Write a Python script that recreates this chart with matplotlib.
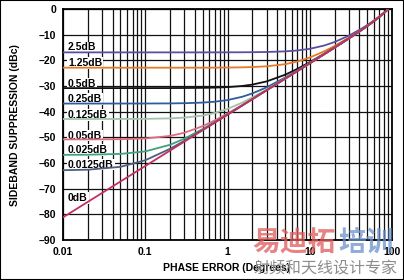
import matplotlib
matplotlib.use('Agg')
import matplotlib.pyplot as plt
from matplotlib.patches import Rectangle

plt.rcParams['font.family'] = ['Liberation Sans', 'DejaVu Sans']

# phase error (degrees) and sideband suppression (dBc)
phase_err = [0.01, 0.02, 0.05, 0.1, 0.2, 0.3, 0.5, 0.7, 1, 1.5, 2, 3, 5, 7, 10,
             15, 20, 30, 40, 50, 60, 70, 80, 90]

supp_0db = [-81.18, -75.16, -67.20, -61.18, -55.16, -51.64, -47.20, -44.28, -41.18, -37.66,
            -35.16, -31.64, -27.20, -24.27, -21.16, -17.61, -15.07, -11.44, -8.78, -6.63,
            -4.77, -3.10, -1.52, 0.0]
supp_00125db = [-62.80, -62.61, -61.50, -58.93, -54.48, -51.32, -47.09, -44.22, -41.15, -37.65,
                -35.15, -31.64, -27.20, -24.27, -21.16, -17.61, -15.07, -11.44, -8.78, -6.63,
                -4.77, -3.10, -1.52, 0.0]
supp_0025db = [-56.82, -56.78, -56.46, -55.48, -52.91, -50.49, -46.76, -44.05, -41.07, -37.61,
               -35.13, -31.63, -27.19, -24.26, -21.15, -17.61, -15.07, -11.44, -8.78, -6.63,
               -4.77, -3.10, -1.52, 0.0]
supp_005db = [-50.81, -50.80, -50.72, -50.44, -49.46, -48.20, -45.63, -43.41, -40.73, -37.46,
              -35.04, -31.59, -27.18, -24.25, -21.15, -17.60, -15.07, -11.44, -8.78, -6.63,
              -4.77, -3.10, -1.52, 0.0]
supp_0125db = [-42.86, -42.86, -42.84, -42.80, -42.61, -42.32, -41.50, -40.50, -38.93, -36.51,
               -34.48, -31.32, -27.08, -24.21, -21.13, -17.60, -15.06, -11.44, -8.78, -6.63,
               -4.77, -3.10, -1.52, 0.0]
supp_025db = [-36.84, -36.84, -36.83, -36.82, -36.78, -36.70, -36.46, -36.12, -35.48, -34.22,
              -32.91, -30.49, -26.75, -24.04, -21.05, -17.56, -15.04, -11.43, -8.78, -6.63,
              -4.77, -3.10, -1.52, 0.0]
supp_05db = [-30.82, -30.82, -30.82, -30.82, -30.80, -30.78, -30.72, -30.63, -30.44, -30.00,
             -29.46, -28.20, -25.63, -23.40, -20.72, -17.41, -14.96, -11.39, -8.75, -6.61,
             -4.76, -3.09, -1.52, 0.0]
supp_125db = [-22.87, -22.87, -22.87, -22.87, -22.87, -22.87, -22.86, -22.84, -22.81, -22.73,
              -22.62, -22.33, -21.51, -20.51, -18.92, -16.48, -14.41, -11.14, -8.62, -6.53,
              -4.71, -3.06, -1.51, 0.0]
supp_25db = [-16.90, -16.90, -16.90, -16.90, -16.90, -16.90, -16.90, -16.89, -16.88, -16.86,
             -16.83, -16.75, -16.51, -16.17, -15.52, -14.23, -12.88, -10.36, -8.17, -6.26,
             -4.54, -2.96, -1.46, 0.0]

curve_names = ['2.5dB', '1.25dB', '0.5dB', '0.25dB', '0.125dB',
               '0.05dB', '0.025dB', '0.0125dB', '0dB']
curves = [supp_25db, supp_125db, supp_05db, supp_025db, supp_0125db,
          supp_005db, supp_0025db, supp_00125db, supp_0db]

x_ticks = [0.01, 0.1, 1, 10, 100]
x_tick_labels = ['0.01', '0.1', '1', '10', '100']
y_ticks = [-90, -80, -70, -60, -50, -40, -30, -20, -10, 0]
y_tick_labels = ['\u201390', '\u201380', '\u201370', '\u201360', '\u201350',
                 '\u201340', '\u201330', '\u201320', '\u201310', '0']

# styles / label placement
colors = ['#5b4f9e', '#e8792b', '#111111', '#2e5c9e', '#a3c2ae',
          '#e06a80', '#3fa27c', '#4d5e82', '#c2305c']
label_y = [-15.0, -21.0, -29.2, -35.1, -41.3, -49.3, -54.9, -60.6, -73.6]

W, H = 404, 280
fig = plt.figure(figsize=(W / 100, H / 100), dpi=100)
ax = fig.add_axes([63 / W, 1 - 240 / H, (392 - 63) / W, (240 - 9) / H])

ax.set_xscale('log')
ax.set_xlim(0.01, 100)
ax.set_ylim(-90, 0)

ax.grid(True, which='both', axis='x', color='#111111', linewidth=0.9)
ax.grid(True, which='major', axis='y', color='#111111', linewidth=0.9)
ax.set_axisbelow(True)

for name, vals, c in zip(curve_names, curves, colors):
    ax.plot(phase_err, vals, color=c, linewidth=1.3, zorder=4, solid_capstyle='butt')

for name, ly in zip(curve_names, label_y):
    ax.text(0.0115, ly, name, fontsize=7.5, fontweight='bold', ha='left', va='center',
            zorder=3, bbox=dict(facecolor='white', edgecolor='none', pad=0.6))

ax.set_xticks(x_ticks)
ax.set_xticklabels(x_tick_labels)
ax.set_yticks(y_ticks)
ax.set_yticklabels(y_tick_labels)
ax.tick_params(which='both', length=0)
ax.tick_params(axis='x', pad=5, labelsize=7.5)
ax.tick_params(axis='y', pad=5, labelsize=7.5)
for lab in ax.get_xticklabels() + ax.get_yticklabels():
    lab.set_fontweight('bold')
for sp in ax.spines.values():
    sp.set_linewidth(1.3)
    sp.set_color('black')

fig.text(226 / W, 1 - 268 / H, 'PHASE ERROR (Degrees)', fontsize=7.5, fontweight='bold',
         ha='center', va='center')
fig.text(15 / W, 1 - 125 / H, 'SIDEBAND SUPPRESSION (dBc)', fontsize=7.5, fontweight='bold',
         ha='center', va='center', rotation=90)

# watermark
cjk = ['Noto Sans CJK SC', 'DejaVu Sans']
fig.text(252 / W, 1 - 243 / H, '易迪拓', fontsize=20, fontweight='bold', family=cjk,
         color='#e05a5a', alpha=0.75, ha='left', va='center')
fig.text(338 / W, 1 - 243 / H, '培训', fontsize=20, fontweight='bold', family=cjk,
         color='#6b90cc', alpha=0.75, ha='left', va='center')
fig.text(253 / W, 1 - 269 / H, '射频和天线设计专家', fontsize=11.5, family=cjk,
         color='#8c8c8c', ha='left', va='center')

fig.patches.append(Rectangle((0, 0), 1, 1, transform=fig.transFigure, fill=False,
                             edgecolor='black', linewidth=1.5))

fig.savefig('out.png', dpi=100)
